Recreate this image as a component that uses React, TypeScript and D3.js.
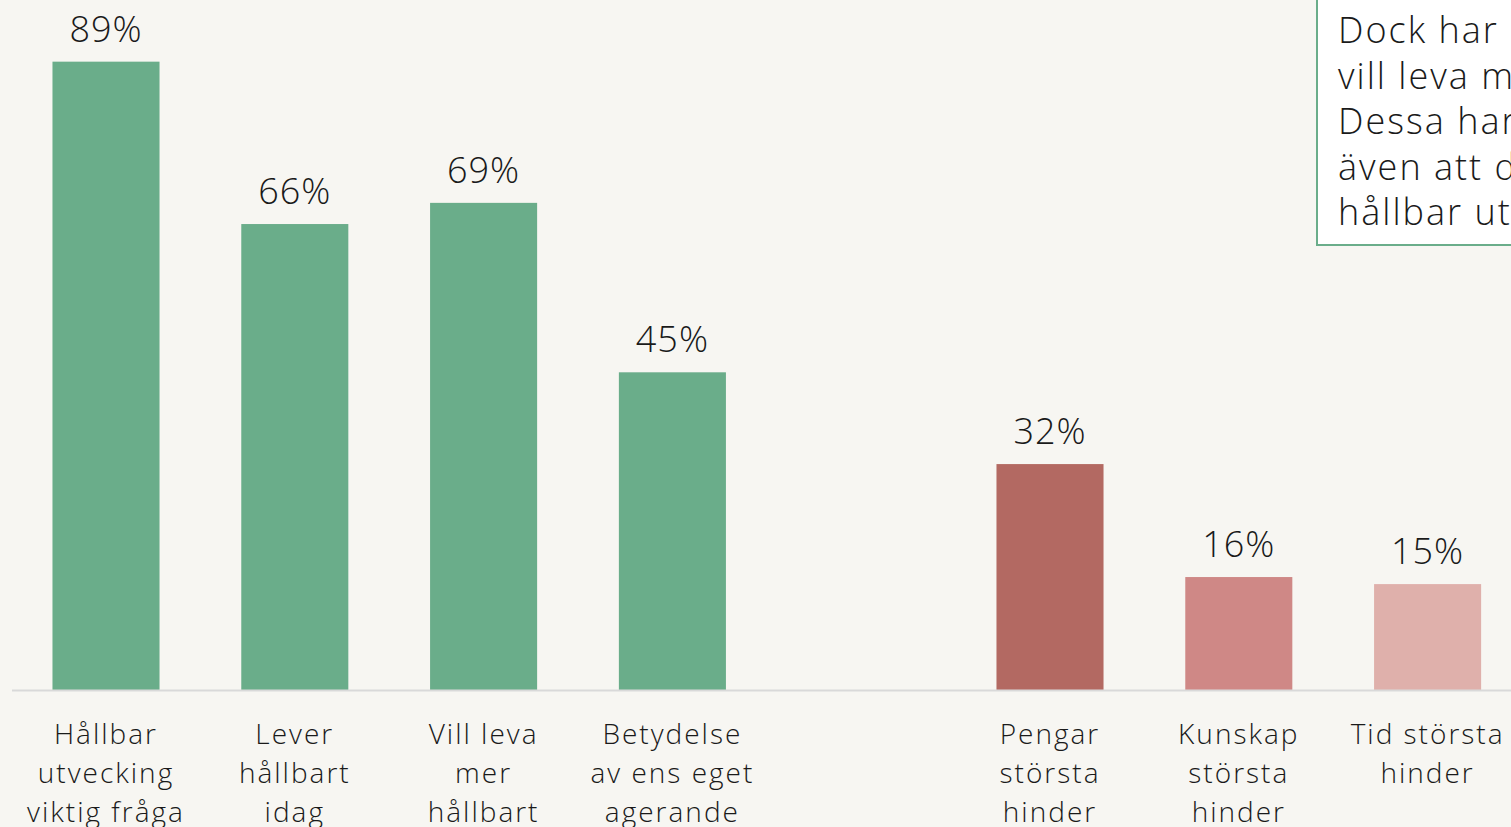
import React from 'react';
import * as d3 from 'd3';

// chart data
const categories = ['hallbar', 'lever', 'vill', 'betydelse', 'gap', 'pengar', 'kunskap', 'tid'];
const labels = [
    ['Hållbar', 'utvecking', 'viktig fråga'],
    ['Lever', 'hållbart', 'idag'],
    ['Vill leva', 'mer', 'hållbart'],
    ['Betydelse', 'av ens eget', 'agerande'],
    [],
    ['Pengar', 'största', 'hinder'],
    ['Kunskap', 'största', 'hinder'],
    ['Tid största', 'hinder'],
];
const values = [89, 66, 69, 45, null, 32, 16, 15];
const barColors = ['#6aad8a', '#6aad8a', '#6aad8a', '#6aad8a', null, '#b36962', '#cf8886', '#dfb0ab'];
const noteLines = [
    'Dock har många som',
    'vill leva mer hållbart.',
    'Dessa har uppgett',
    'även att de tycker att',
    'hållbar utveckling',
];

const W = 1511;
const H = 827;
const BASE = 690;
const FONT = "'Open Sans', 'DejaVu Sans', sans-serif";

export default function App() {
    const x = d3.scaleBand<string>()
        .domain(categories)
        .range([11.6, 1522])
        .paddingInner(0.433)
        .paddingOuter(0.2165);

    const y = d3.scaleLinear()
        .domain([0, 100])
        .range([BASE, BASE - 706]);

    return (
        <svg width={W} height={H} style={{position: 'absolute', left: 0, top: 0, display: 'block'}}>
            <rect x={0} y={0} width={W} height={H} fill="#f7f6f2"/>

            {categories.map((c, i) => {
                const v = values[i];
                if (v == null) return null;
                const bx = x(c) as number;
                const cx = bx + x.bandwidth() / 2;
                return (
                    <g key={c}>
                        <rect x={bx} y={y(v)} width={x.bandwidth()} height={y(0) - y(v)} fill={barColors[i] as string}/>
                        <text x={cx} y={y(v) - 20} textAnchor="middle" fontFamily={FONT} fontWeight={300}
                              fontSize={36} letterSpacing={1} fill="#1a1a1a">{v}%</text>
                    </g>
                );
            })}

            <line x1={12} x2={W} y1={BASE + 0.5} y2={BASE + 0.5} stroke="#d9d9d9" strokeWidth={2}/>

            {categories.map((c, i) => {
                const cx = (x(c) as number) + x.bandwidth() / 2;
                return (
                    <text key={'l' + c} textAnchor="middle" fontFamily={FONT} fontWeight={300}
                          fontSize={28} letterSpacing={2} fill="#1a1a1a">
                        {labels[i].map((t, j) => (
                            <tspan key={j} x={cx} y={744 + j * 39}>{t}</tspan>
                        ))}
                    </text>
                );
            })}

            <rect x={1317} y={-10} width={260} height={255} fill="#ffffff" stroke="#6aad8a" strokeWidth={2}/>
            <text fontFamily={FONT} fontWeight={300} fontSize={36} letterSpacing={2} fill="#1a1a1a">
                {noteLines.map((t, j) => (
                    <tspan key={j} x={1338} y={43 + j * 45.5}>{t}</tspan>
                ))}
            </text>
        </svg>
    );
}
